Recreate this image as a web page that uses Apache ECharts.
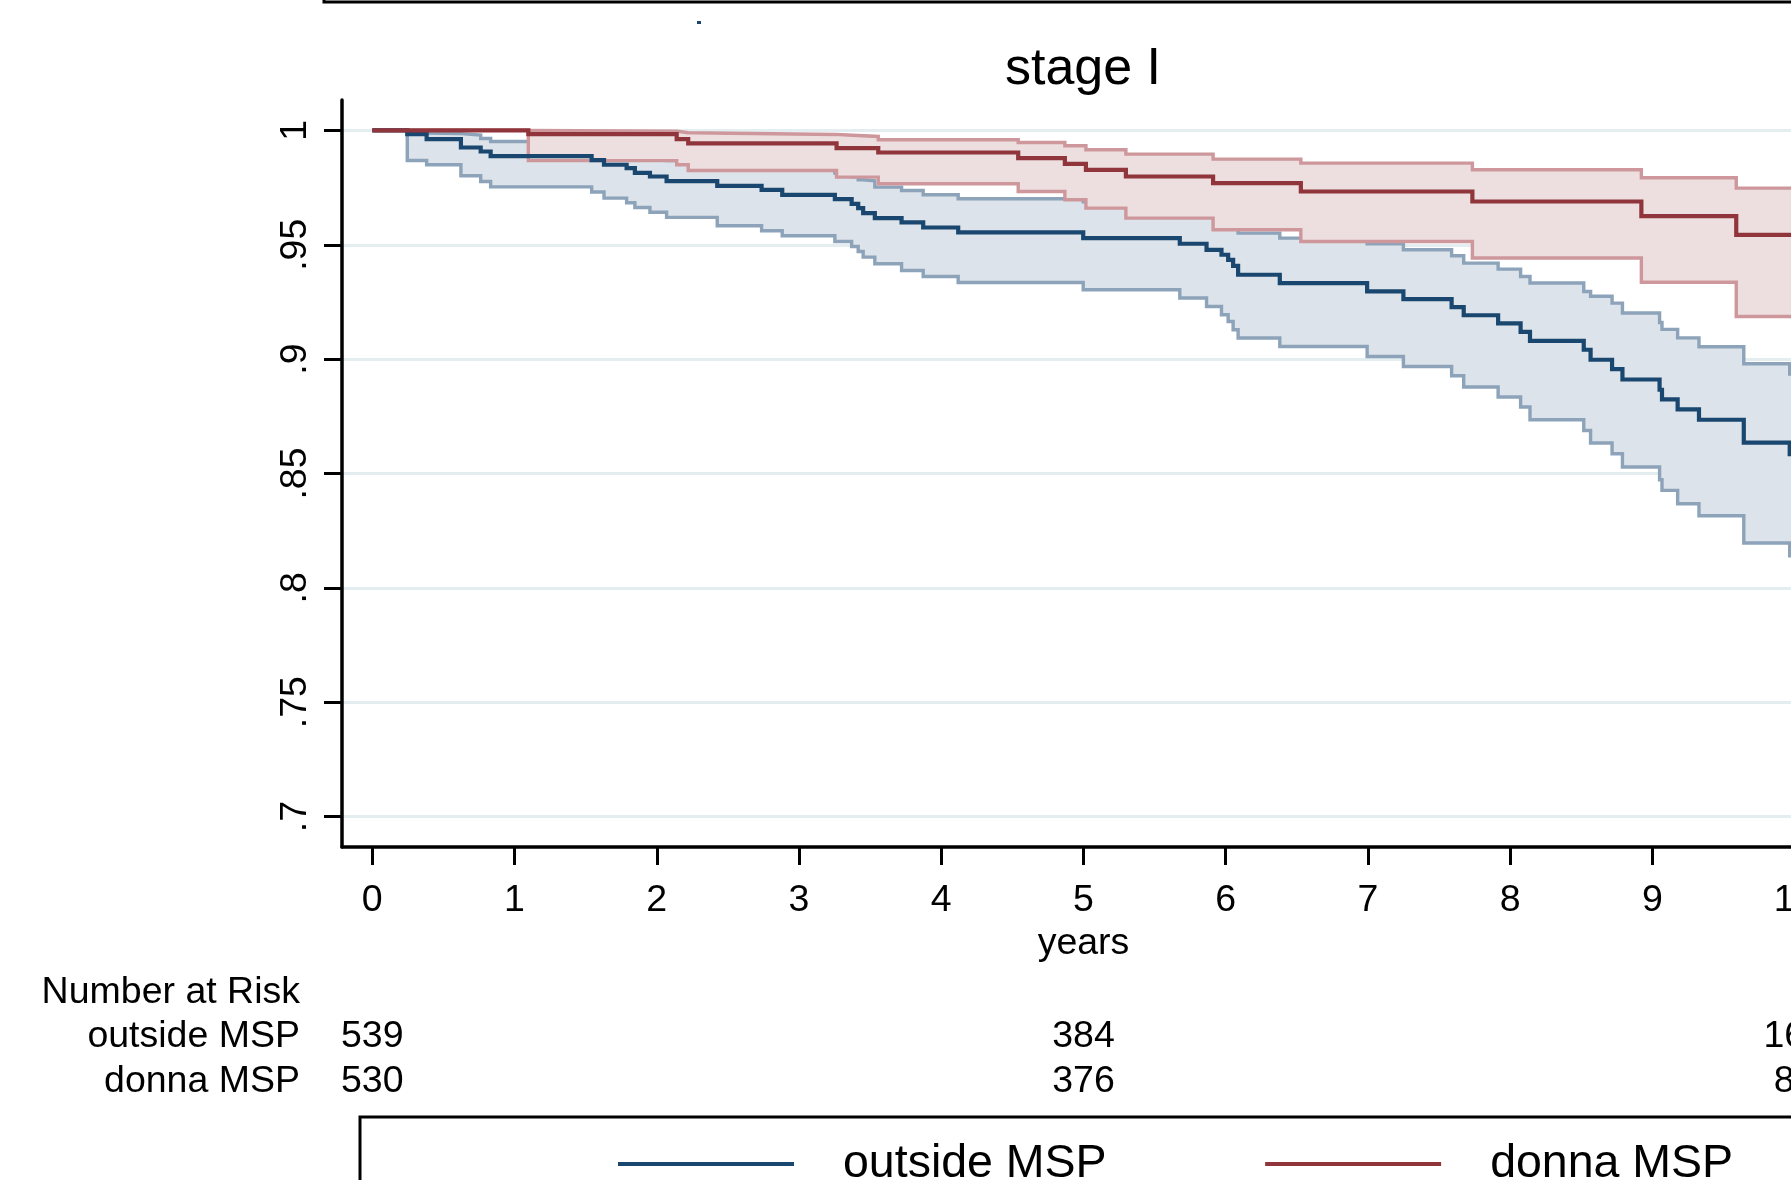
<!DOCTYPE html>
<html>
<head>
<meta charset="utf-8">
<title>stage I</title>
<script src="https://cdn.jsdelivr.net/npm/echarts@6/dist/echarts.min.js"></script>
<style>
  html, body { margin: 0; padding: 0; background: #fff; overflow: hidden; }
  /* the plot runs past the right edge of the window, as in the cropped original */
  #chart { width: 1900px; height: 1180px; }
</style>
</head>
<body>
<div id="chart"></div>
<script>
const FONT = '"Liberation Sans", Arial, Helvetica, sans-serif'

// outside MSP: event times (years), KM estimate and 95% CI
const outsideTimes = [0, 0.246, 0.382, 0.623, 0.762, 0.832, 1.542, 1.629, 1.788, 1.846, 1.952, 2.069, 2.425, 2.737, 2.882,
  3.252, 3.370, 3.416, 3.451, 3.533, 3.721, 3.873, 4.119, 4.998, 5.677, 5.865, 5.970, 6.017, 6.052, 6.087, 6.380,
  6.994, 7.249, 7.588, 7.673, 7.915, 8.073, 8.139, 8.517, 8.565, 8.716, 8.789, 9.050, 9.067, 9.177, 9.327, 9.642, 9.965]
const outsideSurv = [1, 0.99838, 0.99620, 0.99253, 0.99078, 0.98880, 0.98700, 0.98500, 0.98352, 0.98145, 0.97985, 0.97780, 0.97579, 0.97404, 0.97185,
  0.96997, 0.96792, 0.96604, 0.96385, 0.96167, 0.95976, 0.95756, 0.95538, 0.95293, 0.95044, 0.94781, 0.94563, 0.94344, 0.94082, 0.93689, 0.93326,
  0.92959, 0.92626, 0.92270, 0.91920, 0.91560, 0.91190, 0.90800, 0.90411, 0.89974, 0.89560, 0.89110, 0.88662, 0.88240, 0.87800, 0.87351, 0.86350, 0.85850]
const outsideLower = [1, 0.98685, 0.98497, 0.98016, 0.97767, 0.97530, 0.97310, 0.97040, 0.96840, 0.96630, 0.96420, 0.96200, 0.95830, 0.95612, 0.95393,
  0.95144, 0.94926, 0.94707, 0.94462, 0.94169, 0.93877, 0.93615, 0.93352, 0.93033, 0.92670, 0.92303, 0.91941, 0.91648, 0.91285, 0.90922, 0.90555,
  0.90118, 0.89681, 0.89274, 0.88780, 0.88343, 0.87906, 0.87351, 0.86883, 0.86333, 0.85865, 0.85284, 0.84729, 0.84262, 0.83680, 0.83156, 0.81962, 0.81400]
const outsideUpper = [1, 0.99882, 0.99860, 0.99794, 0.99646, 0.99515, 0.99380, 0.99240, 0.99100, 0.98960, 0.98820, 0.98680, 0.98540, 0.98400, 0.98280,
  0.98140, 0.97970, 0.97841, 0.97800, 0.97522, 0.97373, 0.97185, 0.97010, 0.96880, 0.96650, 0.96430, 0.96230, 0.96020, 0.95780, 0.95510, 0.95292,
  0.95044, 0.94781, 0.94519, 0.94199, 0.93937, 0.93615, 0.93326, 0.92960, 0.92750, 0.92450, 0.92015, 0.91605, 0.91300, 0.90930, 0.90540, 0.89800, 0.89350]

// donna MSP
const donnaTimes = [0, 1.097, 2.140, 2.221, 3.264, 3.557, 4.541, 4.869, 5.017, 5.298, 5.911, 6.528, 7.734, 8.922, 9.589]
const donnaSurv = [1, 0.99838, 0.99620, 0.99430, 0.99226, 0.99034, 0.98789, 0.98540, 0.98278, 0.97985, 0.97697, 0.97330, 0.96893, 0.96250, 0.95437]
const donnaLower = [1, 0.98680, 0.98497, 0.98247, 0.97959, 0.97666, 0.97330, 0.96967, 0.96604, 0.96167, 0.95655, 0.95144, 0.94419, 0.93360, 0.91866]
const donnaUpper = [1, 0.99970, 0.99900, 0.99820, 0.99735, 0.99589, 0.99471, 0.99327, 0.99152, 0.98964, 0.98746, 0.98571, 0.98278, 0.97930, 0.97478]

const followUpEnd = 10.2

const xTicks = [0, 1, 2, 3, 4, 5, 6, 7, 8, 9, 10]
const xTickLabels = ['0', '1', '2', '3', '4', '5', '6', '7', '8', '9', '10']
const yTicks = [0.7, 0.75, 0.8, 0.85, 0.9, 0.95, 1]
const yTickLabels = ['.7', '.75', '.8', '.85', '.9', '.95', '1']

// number at risk table
const riskGroups = ['outside MSP', 'donna MSP']
const riskTimes = [0, 5, 10]
const riskOutside = [539, 384, 161]
const riskDonna = [530, 376, 85]

const X_MIN = -0.213
const X_MAX = 10.213

const colors = {
  outside: '#1a476f',
  outsideCI: '#8ca3b9',
  outsideFill: '#dce3ea',
  donna: '#90353b',
  donnaCI: '#cd979c',
  donnaFill: '#eddfe0',
  grid: '#e4edf0',
}

function stepPoints(times, values) {
  // corner points of a right-continuous step function
  const pts = []
  times.forEach((t, i) => {
    if (i > 0) {
      pts.push([t, values[i - 1]])
    }
    pts.push([t, values[i]])
  })
  pts.push([followUpEnd, values[values.length - 1]])
  return pts
}

function stepLine(name, times, values, color, width, z) {
  return {
    name,
    type: 'line',
    step: 'end',
    z,
    silent: true,
    symbol: 'none',
    showSymbol: false,
    color,
    itemStyle: { color },
    lineStyle: { color, width, join: 'miter', cap: 'butt' },
    emphasis: { disabled: true },
    data: times.map((t, i) => [t, values[i]]).concat([[followUpEnd, values[values.length - 1]]]),
  }
}

function band(times, lower, upper, fill, z) {
  return {
    type: 'custom',
    z,
    silent: true,
    clip: true,
    data: [[0, 1]],
    renderItem(params, api) {
      const top = stepPoints(times, upper)
      const bottom = stepPoints(times, lower).reverse()
      const points = top.concat(bottom).map((p) => api.coord(p))
      return { type: 'polygon', shape: { points }, style: { fill } }
    },
  }
}

function riskSeries(row, counts) {
  return {
    type: 'scatter',
    xAxisIndex: 1,
    yAxisIndex: 1,
    silent: true,
    symbolSize: 1,
    itemStyle: { color: 'rgba(0,0,0,0)', opacity: 1 },
    label: {
      show: true,
      position: 'inside',
      formatter: (p) => String(p.value[2]),
      color: '#000',
      opacity: 1,
      textBorderWidth: 0,
      fontSize: 37.5,
      fontFamily: FONT,
    },
    data: riskTimes.map((t, i) => [t, row, counts[i]]),
  }
}

const chart = echarts.init(document.getElementById('chart'), null, { renderer: 'canvas' })

chart.setOption({
  animation: false,
  backgroundColor: '#fff',
  textStyle: { fontFamily: FONT, color: '#000' },
  grid: [
    { left: 342, width: 1483, top: 100, bottom: 333 },
    { left: 342, width: 1483, top: 1015, height: 88.6 },
  ],
  xAxis: [
    {
      type: 'value',
      gridIndex: 0,
      min: X_MIN,
      max: X_MAX,
      name: 'years',
      nameLocation: 'middle',
      nameGap: 70,
      nameTextStyle: { fontSize: 37.5, color: '#000', fontFamily: FONT },
      axisLine: { onZero: false, lineStyle: { color: '#000', width: 3.5 } },
      axisTick: { customValues: xTicks, length: 18, lineStyle: { color: '#000', width: 3 } },
      axisLabel: {
        customValues: xTicks,
        margin: 35,
        fontSize: 37.5,
        color: '#000',
        formatter: (v) => xTickLabels[xTicks.indexOf(v)] ?? String(v),
      },
      splitLine: { show: false },
    },
    { type: 'value', gridIndex: 1, min: X_MIN, max: X_MAX, show: false },
  ],
  yAxis: [
    {
      type: 'value',
      gridIndex: 0,
      min: 0.6867,
      max: 1.0133,
      axisLine: { show: true, onZero: false, lineStyle: { color: '#000', width: 3.5 } },
      axisTick: { show: true, customValues: yTicks, length: 18, lineStyle: { color: '#000', width: 3 } },
      axisLabel: {
        customValues: yTicks,
        rotate: 90,
        margin: 27,
        fontSize: 37.5,
        color: '#000',
        formatter: (v) => {
          const i = yTicks.findIndex((t) => Math.abs(t - v) < 1e-6)
          return i >= 0 ? yTickLabels[i] : String(v)
        },
      },
      splitLine: { show: true, lineStyle: { color: colors.grid, width: 3 } },
    },
    {
      type: 'category',
      gridIndex: 1,
      data: riskGroups,
      inverse: true,
      axisLine: { show: false },
      axisTick: { show: false },
      splitLine: { show: false },
      axisLabel: { interval: 0, margin: 42, fontSize: 37.5, color: '#000', fontFamily: FONT },
    },
  ],
  legend: {
    left: 618,
    top: 1140.5,
    padding: 0,
    orient: 'horizontal',
    icon: 'rect',
    itemWidth: 176,
    itemHeight: 4,
    itemGap: 158.5,
    selectedMode: false,
    data: ['outside MSP', 'donna MSP'],
    textStyle: { fontSize: 46.5, color: '#000', fontFamily: FONT, padding: [0, 0, 0, 44] },
  },
  graphic: [
    {
      type: 'text',
      x: 1083,
      y: 44,
      style: { text: 'stage I', fontSize: 52, fontFamily: FONT, fill: '#000', align: 'center', verticalAlign: 'top' },
    },
    {
      type: 'text',
      x: 300,
      y: 992.5,
      style: { text: 'Number at Risk', fontSize: 37.5, fontFamily: FONT, fill: '#000', align: 'right', verticalAlign: 'middle' },
    },
    {
      type: 'rect',
      shape: { x: 324, y: -200, width: 1600, height: 202 },
      style: { fill: 'none', stroke: '#000', lineWidth: 3 },
    },
    {
      type: 'rect',
      shape: { x: 697, y: 21, width: 4, height: 3 },
      style: { fill: colors.outside },
    },
    {
      type: 'rect',
      shape: { x: 360, y: 1117, width: 1600, height: 200 },
      style: { fill: 'none', stroke: '#000', lineWidth: 3 },
    },
  ],
  series: [
    band(outsideTimes, outsideLower, outsideUpper, colors.outsideFill, 1),
    stepLine('outside lower', outsideTimes, outsideLower, colors.outsideCI, 3.4, 2),
    stepLine('outside upper', outsideTimes, outsideUpper, colors.outsideCI, 3.4, 2),
    band(donnaTimes, donnaLower, donnaUpper, colors.donnaFill, 3),
    stepLine('donna lower', donnaTimes, donnaLower, colors.donnaCI, 3.4, 4),
    stepLine('donna upper', donnaTimes, donnaUpper, colors.donnaCI, 3.4, 4),
    stepLine('outside MSP', outsideTimes, outsideSurv, colors.outside, 4.2, 5),
    stepLine('donna MSP', donnaTimes, donnaSurv, colors.donna, 4.2, 6),
    riskSeries(0, riskOutside),
    riskSeries(1, riskDonna),
  ],
})
</script>
</body>
</html>
